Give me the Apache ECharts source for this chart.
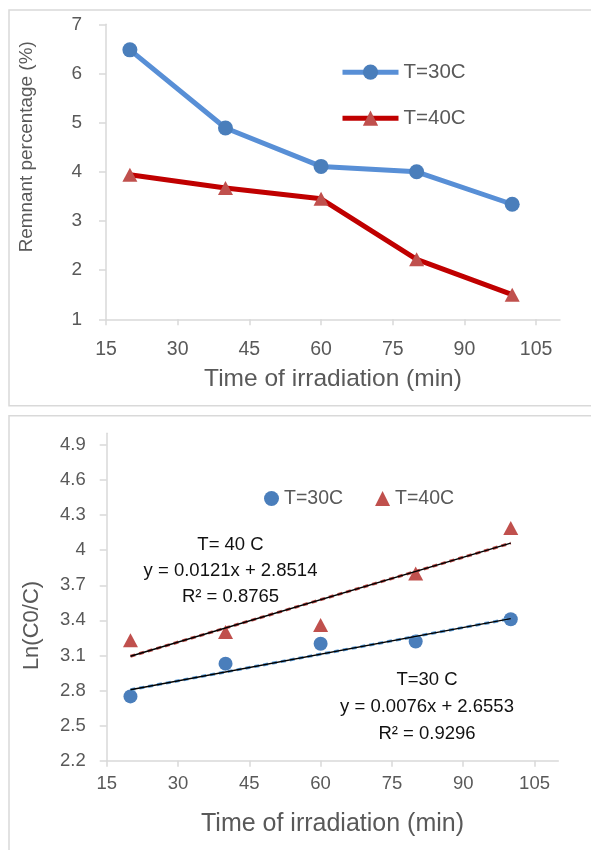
<!DOCTYPE html>
<html>
<head>
<meta charset="utf-8">
<script src="https://cdn.jsdelivr.net/npm/echarts@6/dist/echarts.min.js"></script>
<style>
html,body{margin:0;padding:0;background:#fff;}
#c{width:591px;height:850px;}
</style>
</head>
<body>
<div id="c"></div>
<script>
// ---- data ----
const times = [20, 40, 60, 80, 100];
const remnant30 = [6.48, 4.89, 4.11, 4.00, 3.34];
const remnant40 = [3.94, 3.67, 3.45, 2.22, 1.50];
const ln30 = [2.75, 3.03, 3.20, 3.22, 3.41];
const ln40 = [3.23, 3.30, 3.36, 3.80, 4.19];
const trendX = [20, 100];
const trend30 = [2.807, 3.415];
const trend40 = [3.093, 4.061];
const xTickLabels = [15, 30, 45, 60, 75, 90, 105];
const topYTickLabels = [1, 2, 3, 4, 5, 6, 7];
const bottomYTickLabels = [2.2, 2.5, 2.8, 3.1, 3.4, 3.7, 4.0, 4.3, 4.6, 4.9];
const eq40 = ['T= 40 C', 'y = 0.0121x + 2.8514', 'R² = 0.8765'];
const eq30 = ['T=30 C', 'y = 0.0076x + 2.6553', 'R² = 0.9296'];

const pairs = (xs, ys) => xs.map((x, i) => [x, ys[i]]);

const FONT = 'Liberation Sans';
const GREY = '#595959';
const AXIS = '#d9d9d9';

function xAxisCfg(gridIndex, fs, margin, nameFs, nameGap) {
  return {
    type: 'value', gridIndex, min: 15, max: 110, interval: 15,
    name: 'Time of irradiation (min)', nameLocation: 'middle', nameGap,
    nameTextStyle: {fontFamily: FONT, fontSize: nameFs, color: GREY},
    axisLine: {show: true, lineStyle: {color: AXIS, width: 1.5}},
    axisTick: {show: true, inside: false, length: 6, lineStyle: {color: AXIS, width: 1.5}, customValues: xTickLabels},
    axisLabel: {fontFamily: FONT, fontSize: fs, color: GREY, margin, customValues: xTickLabels},
    splitLine: {show: false}
  };
}

const chart = echarts.init(document.getElementById('c'), null, {renderer: 'canvas'});
chart.setOption({
  animation: false,
  backgroundColor: '#fff',
  grid: [
    {left: 106, top: 24.3, width: 454, height: 295, outerBoundsMode: 'none', containLabel: false},
    {left: 106.7, top: 433.3, width: 451.6, height: 327.4, outerBoundsMode: 'none', containLabel: false}
  ],
  xAxis: [
    xAxisCfg(0, 19.5, 20, 24.5, 47),
    xAxisCfg(1, 18.5, 14, 25, 51)
  ],
  yAxis: [
    {
      type: 'value', gridIndex: 0, min: 1, max: 7, interval: 1,
      name: 'Remnant percentage (%)', nameLocation: 'middle', nameGap: 70,
      nameTextStyle: {fontFamily: FONT, fontSize: 18.9, color: GREY, padding: [0, 0, 0, 50]},
      axisLine: {show: true, lineStyle: {color: AXIS, width: 1.5}},
      axisTick: {show: true, inside: false, length: 7, lineStyle: {color: AXIS, width: 1.5}, customValues: topYTickLabels},
      axisLabel: {fontFamily: FONT, fontSize: 19, color: GREY, margin: 24, customValues: topYTickLabels},
      splitLine: {show: false}
    },
    {
      type: 'value', gridIndex: 1, min: 2.2, max: 5.0, interval: 0.3,
      name: 'Ln(C0/C)', nameLocation: 'middle', nameGap: 64,
      nameTextStyle: {fontFamily: FONT, fontSize: 22, color: GREY, padding: [0, 57, 0, 0]},
      axisLine: {show: true, lineStyle: {color: AXIS, width: 1.5}},
      axisTick: {show: true, inside: false, length: 7, lineStyle: {color: AXIS, width: 1.5}, customValues: bottomYTickLabels},
      axisLabel: {fontFamily: FONT, fontSize: 18.5, color: GREY, margin: 21, customValues: bottomYTickLabels},
      splitLine: {show: false}
    }
  ],
  legend: [
    {
      orient: 'vertical', left: 335, top: 56.7, itemWidth: 56, itemHeight: 19, itemGap: 25,
      lineStyle: {width: 5},
      textStyle: {fontFamily: FONT, fontSize: 20.5, color: GREY},
      data: ['T=30C', 'T=40C']
    },
    {
      orient: 'horizontal', left: 259, top: 483.5, itemWidth: 15, itemHeight: 15, itemGap: 32,
      textStyle: {fontFamily: FONT, fontSize: 19.5, color: GREY},
      data: [
        {name: 'T=30C', icon: 'circle', itemStyle: {color: '#4a7ebb'}},
        {name: 'T=40C', icon: 'triangle', itemStyle: {color: '#c0504d'}}
      ]
    }
  ],
  graphic: [
    {type: 'rect', shape: {x: 9, y: 10, width: 600, height: 395.7}, style: {fill: 'none', stroke: AXIS, lineWidth: 1.5}, silent: true, z: -1},
    {type: 'rect', shape: {x: 9, y: 415.7, width: 600, height: 500}, style: {fill: 'none', stroke: AXIS, lineWidth: 1.5}, silent: true, z: -1},
    {type: 'text', style: {text: eq40.join('\n'), x: 230.5, y: 532, align: 'center', verticalAlign: 'top', fontFamily: FONT, fontSize: 18.5, lineHeight: 25.8, fill: '#111'}, silent: true},
    {type: 'text', style: {text: eq30.join('\n'), x: 427, y: 667, align: 'center', verticalAlign: 'top', fontFamily: FONT, fontSize: 18.5, lineHeight: 26.7, fill: '#111'}, silent: true}
  ],
  series: [
    {
      name: 'T=30C', type: 'line', xAxisIndex: 0, yAxisIndex: 0,
      data: pairs(times, remnant30),
      symbol: 'circle', symbolSize: 15, showAllSymbol: true,
      lineStyle: {color: '#588fd6', width: 5},
      itemStyle: {color: '#4a7ebb'}
    },
    {
      name: 'T=40C', type: 'line', xAxisIndex: 0, yAxisIndex: 0,
      data: pairs(times, remnant40),
      symbol: 'triangle', symbolSize: [15, 14], showAllSymbol: true,
      lineStyle: {color: '#c00000', width: 5},
      itemStyle: {color: '#c0504d'}
    },
    {
      name: 'T=30C', type: 'scatter', xAxisIndex: 1, yAxisIndex: 1,
      data: pairs(times, ln30), symbol: 'circle', symbolSize: 14,
      itemStyle: {color: '#4a7ebb', opacity: 1}, z: 2
    },
    {
      name: 'T=40C', type: 'scatter', xAxisIndex: 1, yAxisIndex: 1,
      data: pairs(times, ln40), symbol: 'triangle', symbolSize: [15, 14],
      itemStyle: {color: '#c0504d', opacity: 1}, z: 2
    },
    {
      name: 'trend30c', type: 'line', xAxisIndex: 1, yAxisIndex: 1,
      data: pairs(trendX, trend30), symbol: 'none',
      lineStyle: {color: '#5b9bd5', width: 3, type: [5, 4]}, z: 3, silent: true
    },
    {
      name: 'trend40c', type: 'line', xAxisIndex: 1, yAxisIndex: 1,
      data: pairs(trendX, trend40), symbol: 'none',
      lineStyle: {color: '#c0504d', width: 3, type: [5, 4]}, z: 3, silent: true
    },
    {
      name: 'trend30k', type: 'line', xAxisIndex: 1, yAxisIndex: 1,
      data: pairs(trendX, trend30), symbol: 'none',
      lineStyle: {color: '#000', width: 1.5}, z: 4, silent: true
    },
    {
      name: 'trend40k', type: 'line', xAxisIndex: 1, yAxisIndex: 1,
      data: pairs(trendX, trend40), symbol: 'none',
      lineStyle: {color: '#000', width: 1.5}, z: 4, silent: true
    }
  ]
});
</script>
</body>
</html>
